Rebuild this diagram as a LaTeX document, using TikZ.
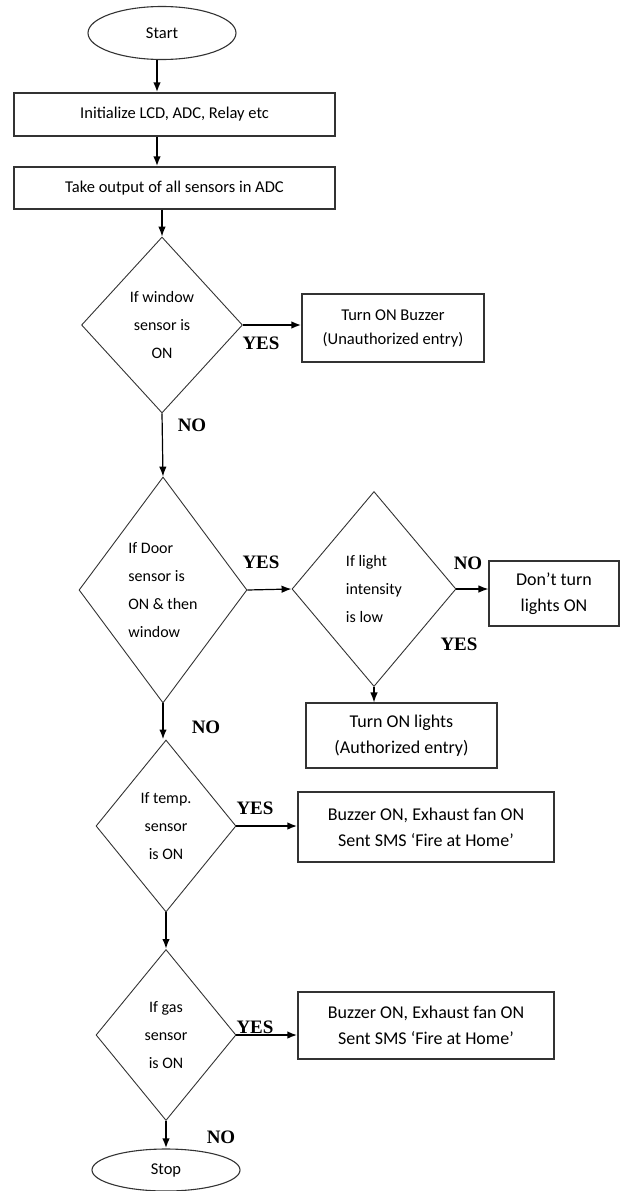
\documentclass[tikz,border=0pt]{standalone}
\usepackage{fontspec}
\setmainfont{Carlito}
\newfontfamily\labelfont{Liberation Serif}
\usetikzlibrary{arrows.meta,shapes}
\tikzset{
    basic/.style      = {draw=black!80, line width=1.1pt, inner sep=0pt, align=center,
                         font=\fontsize{16.5}{24}\selectfont},
    terminal/.style   = {basic, ellipse},
    process/.style    = {basic, rectangle},
    big process/.style = {process, font=\fontsize{18}{26}\selectfont},
    decision/.style   = {basic, diamond, aspect=0.75, line width=0.9pt,
                         font=\fontsize{16}{28}\selectfont},
    answer/.style     = {inner sep=0pt, font=\labelfont\bfseries\fontsize{19}{19}\selectfont},
    flow/.style       = {->, line width=1.2pt},
    bold flow/.style  = {->, line width=2pt}
}
\begin{document}
\begin{tikzpicture}[x=1pt, y=-1pt, >={Latex[length=10pt,width=7.5pt]}]
	\useasboundingbox (0,0) rectangle (621,1191);
	\node[terminal, minimum width=148pt, minimum height=53pt] (start) at (162,33) {Start};
	\node[process, minimum width=321pt, minimum height=43pt] (init) at (174.5,114.5) {Initialize LCD, ADC, Relay etc};
	\node[process, minimum width=321pt, minimum height=42pt] (adc) at (174.5,188) {Take output of all sensors in ADC};
	\node[decision, minimum width=161pt, minimum height=176pt] (window) at (162,325) {If window\\sensor is\\ON};
	\node[process, minimum width=182pt, minimum height=68pt] (buzzer) at (393,328) {Turn ON Buzzer\\(Unauthorized entry)};
	\node[decision, minimum width=168pt, minimum height=226pt, align=left] (door) at (163,590) {If Door\\sensor is\\ON \& then\\window};
	\node[decision, minimum width=164pt, minimum height=195pt, align=left] (light) at (374,589) {If light\\intensity\\is low};
	\node[big process, minimum width=130pt, minimum height=65pt] (nolight) at (554,593.5) {Don’t turn\\lights ON};
	\node[big process, minimum width=191pt, minimum height=65pt] (lights) at (401.5,735.5) {Turn ON lights\\(Authorized entry)};
	\node[decision, minimum width=140pt, minimum height=172pt] (temp) at (166,826) {If temp.\\sensor\\is ON};
	\node[big process, minimum width=256pt, minimum height=70pt] (fire) at (426,827) {Buzzer ON, Exhaust fan ON\\Sent SMS ‘Fire at Home’};
	\node[decision, minimum width=140pt, minimum height=171pt] (gas) at (166,1035) {If gas\\sensor\\is ON};
	\node[big process, minimum width=256pt, minimum height=67pt] (firegas) at (426,1025.5) {Buzzer ON, Exhaust fan ON\\Sent SMS ‘Fire at Home’};
	\node[terminal, minimum width=148pt, minimum height=42pt] (stop) at (166,1170) {Stop};

	\node[answer] (yes1) at (261,343) {YES};
	\node[answer] (no1) at (192,425) {NO};
	\node[answer] (yes2) at (261,562) {YES};
	\node[answer] (no3) at (468,563) {NO};
	\node[answer] (yes3) at (459,644) {YES};
	\node[answer] (no2) at (206,727) {NO};
	\node[answer] (yes4) at (255,808) {YES};
	\node[answer] (yes5) at (255,1027) {YES};
	\node[answer] (no4) at (221,1137) {NO};

	\draw[bold flow] ([xshift=-5pt]start.south) -- ([xshift=-5pt]start.south |- init.north);
	\draw[bold flow] ([xshift=-5pt]init.south -| start.south) -- ([xshift=-5pt]adc.north -| start.south);
	\draw[flow] (adc.south -| window.north) -- (window.north);
	\draw[bold flow] (window.east) -- (window.east -| buzzer.west);
	\draw[flow] (window.south) -- (door.north);
	\draw[flow] (door.east) -- (light.west);
	\draw[flow] (light.east) -- (light.east -| nolight.west);
	\draw[flow] (light.south) -- (light.south |- lights.north);
	\draw[bold flow] (door.south) -- (door.south |- temp.north);
	\draw[bold flow] (temp.east) -- (temp.east -| fire.west);
	\draw[bold flow] (temp.south) -- (gas.north);
	\draw[bold flow] (gas.east) -- (gas.east -| firegas.west);
	\draw[bold flow] (gas.south) -- (stop.north);
\end{tikzpicture}
\end{document}
